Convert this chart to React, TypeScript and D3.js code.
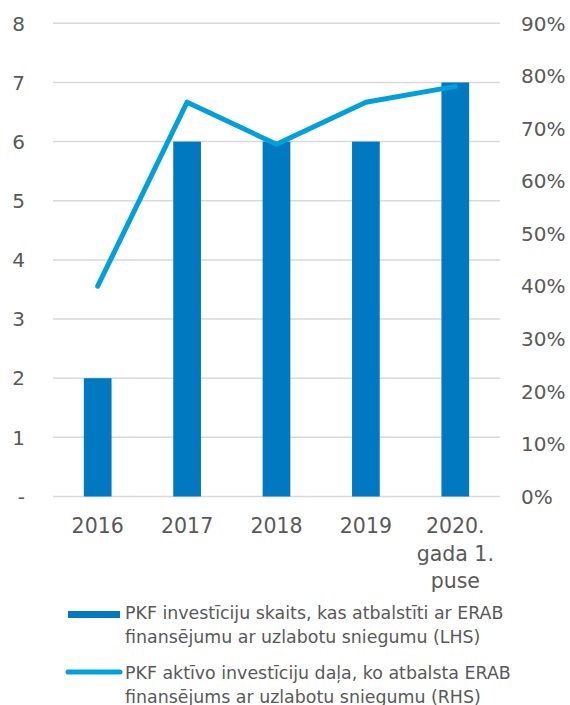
import React from "react";
import * as d3 from "d3";

const categories = ["2016", "2017", "2018", "2019", "2020. gada 1. puse"];
const categoryLines = [["2016"], ["2017"], ["2018"], ["2019"], ["2020.", "gada 1.", "puse"]];
const barValues = [2, 6, 6, 6, 7];
const lineValues = [0.4, 0.75, 0.67, 0.75, 0.78];
const leftTicks = [0, 1, 2, 3, 4, 5, 6, 7, 8];
const rightTicks = [0, 0.1, 0.2, 0.3, 0.4, 0.5, 0.6, 0.7, 0.8, 0.9];
const legendBar = ["PKF investīciju skaits, kas atbalstīti ar ERAB", "finansējumu ar uzlabotu sniegumu (LHS)"];
const legendLine = ["PKF aktīvo investīciju daļa, ko atbalsta ERAB", "finansējums ar uzlabotu sniegumu (RHS)"];

const W = 570, H = 705;
const L = 53, R = 500, T = 23.3, B = 496.5;
const font = "'DejaVu Sans', sans-serif";
const textColor = "#595959";
const barColor = "#0079C1";
const lineColor = "#00A0DC";

export default function App() {
  const x = d3.scaleBand<string>().domain(categories).range([L, R]).paddingInner(0.69).paddingOuter(0.345);
  const yL = d3.scaleLinear().domain([0, 8]).range([B, T]);
  const yR = d3.scaleLinear().domain([0, 0.9]).range([B, T]);
  const cx = (c: string) => (x(c) ?? 0) + x.bandwidth() / 2;
  const line = d3.line<number>().x((_, i) => cx(categories[i])).y((d) => yR(d));

  return (
    <svg width={W} height={H} style={{ position: "absolute", left: 0, top: 0, fontFamily: font }}>
      <rect width={W} height={H} fill="#fff" />
      {leftTicks.map((t) => (
        <line key={t} x1={L} x2={R} y1={yL(t)} y2={yL(t)} stroke="#d9d9d9" strokeWidth={1.5} />
      ))}
      {categories.map((c, i) => (
        <rect key={c} x={x(c)} y={yL(barValues[i])} width={x.bandwidth()} height={B - yL(barValues[i])} fill={barColor} />
      ))}
      <path d={line(lineValues) ?? ""} fill="none" stroke={lineColor} strokeWidth={5} strokeLinecap="round" strokeLinejoin="round" />
      {leftTicks.map((t) => (
        <text key={t} x={25} y={yL(t)} dy="0.36em" textAnchor="end" fontSize={20} fill={textColor}>
          {t === 0 ? "-" : d3.format("d")(t)}
        </text>
      ))}
      {rightTicks.map((t) => (
        <text key={t} x={521} y={yR(t)} dy="0.36em" textAnchor="start" fontSize={20} fill={textColor}>
          {d3.format(".0%")(t)}
        </text>
      ))}
      {categories.map((c, i) => (
        <text key={c} x={cx(c)} y={533} textAnchor="middle" fontSize={20.5} fill={textColor}>
          {categoryLines[i].map((s, j) => (
            <tspan key={j} x={cx(c)} dy={j === 0 ? 0 : 27.5}>{s}</tspan>
          ))}
        </text>
      ))}
      <rect x={68} y={611} width={52} height={7} fill={barColor} />
      <text x={125} y={619} fontSize={17.4} fill={textColor}>
        {legendBar.map((s, j) => (
          <tspan key={j} x={125} dy={j === 0 ? 0 : 24}>{s}</tspan>
        ))}
      </text>
      <line x1={68} x2={120} y1={672} y2={672} stroke={lineColor} strokeWidth={5} strokeLinecap="round" />
      <text x={125} y={679} fontSize={17.4} fill={textColor}>
        {legendLine.map((s, j) => (
          <tspan key={j} x={125} dy={j === 0 ? 0 : 24}>{s}</tspan>
        ))}
      </text>
    </svg>
  );
}
